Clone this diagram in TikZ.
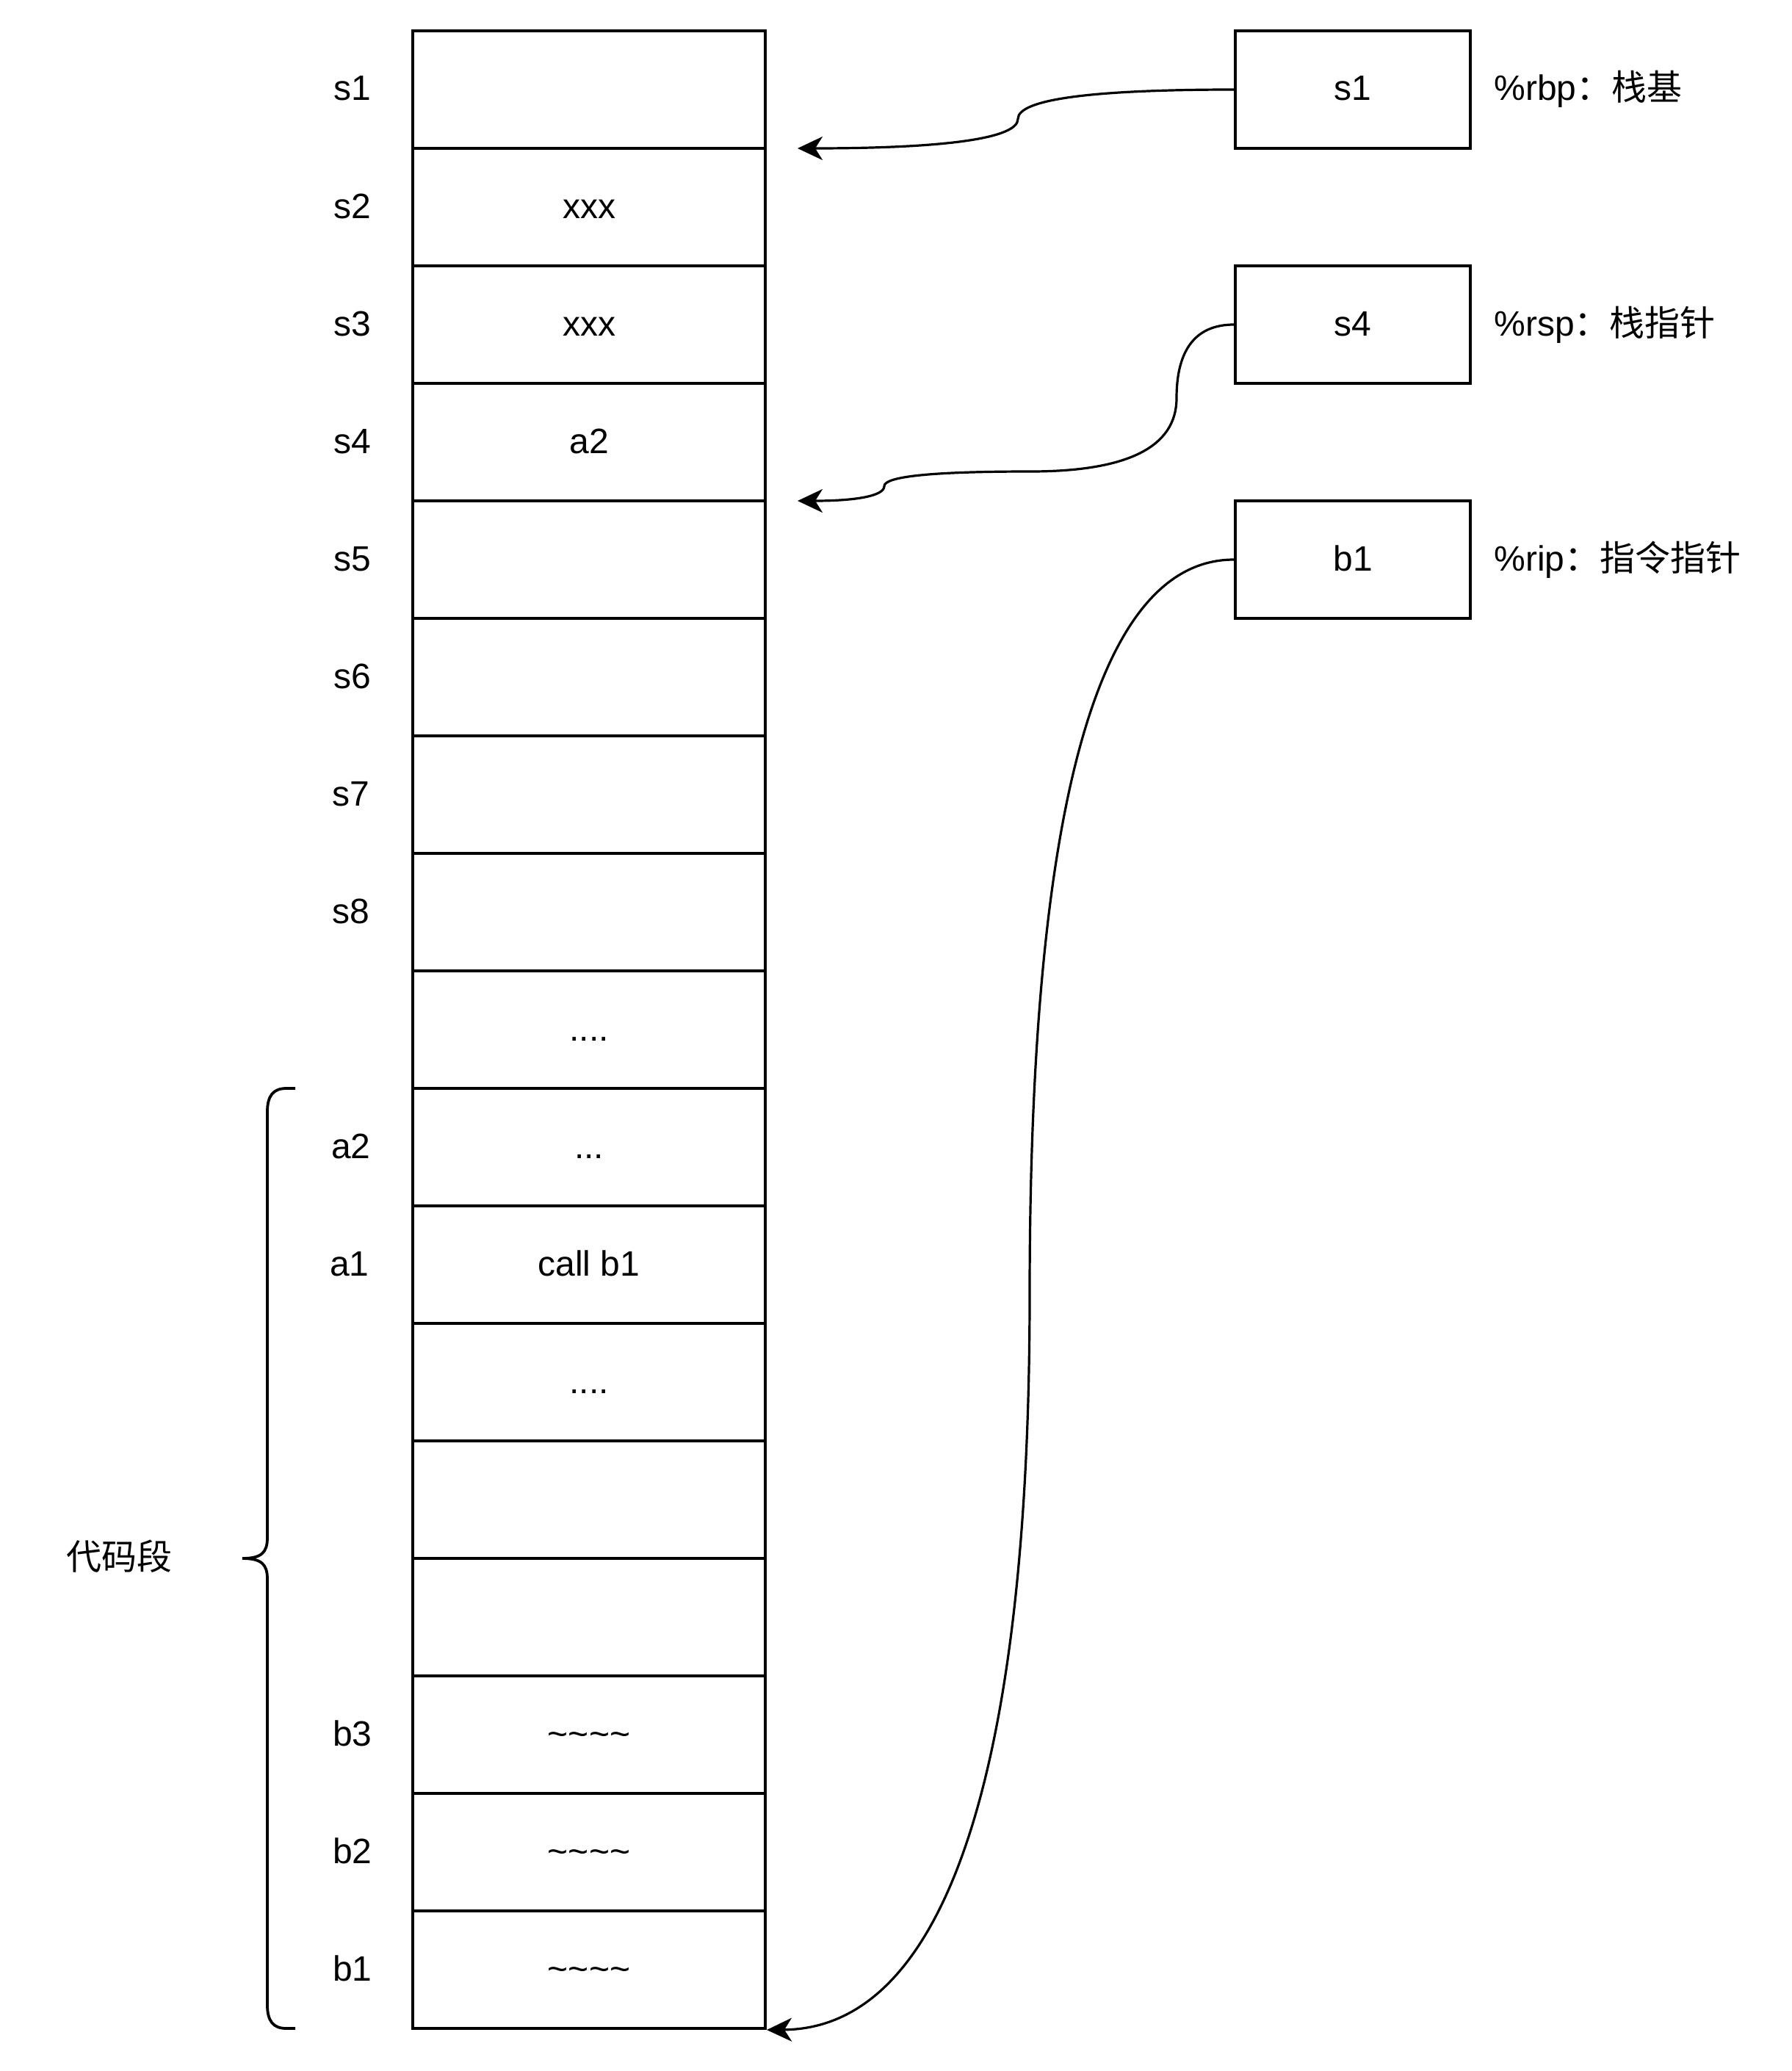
\documentclass[tikz,border=0pt]{standalone}
\usepackage{fontspec}
\setmainfont{Liberation Sans}
\newfontfamily\cjk{Noto Sans CJK SC}
\usetikzlibrary{arrows.meta}
\begin{document}
\begin{tikzpicture}[x=1pt,y=-1pt,
  txt/.style={inner sep=0pt, font=\fontsize{24}{28}\selectfont, text height=15pt, text depth=0pt},
  cell/.style={txt, draw, line width=2pt, minimum width=240pt, minimum height=80pt},
  reg/.style={cell, minimum width=160pt},
  conn/.style={line width=1.6pt, -{Stealth[length=17pt,width=16pt,inset=5pt]}}
]
\useasboundingbox (-1,-1) rectangle (1219,1409);

% memory column
\node[cell] (c0)  at (400,60)   {};
\node[cell] (c1)  at (400,140)  {xxx};
\node[cell] (c2)  at (400,220)  {xxx};
\node[cell] (c3)  at (400,300)  {a2};
\node[cell] (c4)  at (400,380)  {};
\node[cell] (c5)  at (400,460)  {};
\node[cell] (c6)  at (400,540)  {};
\node[cell] (c7)  at (400,620)  {};
\node[cell] (c8)  at (400,700)  {....};
\node[cell] (c9)  at (400,780)  {...};
\node[cell] (c10) at (400,860)  {call b1};
\node[cell] (c11) at (400,940)  {....};
\node[cell] (c12) at (400,1020) {};
\node[cell] (c13) at (400,1100) {};
\node[cell] (c14) at (400,1180) {\textasciitilde\textasciitilde\textasciitilde\textasciitilde};
\node[cell] (c15) at (400,1260) {\textasciitilde\textasciitilde\textasciitilde\textasciitilde};
\node[cell] (c16) at (400,1340) {\textasciitilde\textasciitilde\textasciitilde\textasciitilde};

% address labels
\node[txt] (l0)  at (239,60)   {s1};
\node[txt] (l1)  at (239,140)  {s2};
\node[txt] (l2)  at (239,220)  {s3};
\node[txt] (l3)  at (239,300)  {s4};
\node[txt] (l4)  at (239,380)  {s5};
\node[txt] (l5)  at (239,460)  {s6};
\node[txt] (l6)  at (238,540)  {s7};
\node[txt] (l7)  at (238,620)  {s8};
\node[txt] (l9)  at (238,780)  {a2};
\node[txt] (l10) at (237,860)  {a1};
\node[txt] (l14) at (239,1180) {b3};
\node[txt] (l15) at (239,1260) {b2};
\node[txt] (l16) at (239,1340) {b1};

% registers
\node[reg] (rbp) at (920,60)  {s1};
\node[reg] (rsp) at (920,220) {s4};
\node[reg] (rip) at (920,380) {b1};
\node[txt, anchor=west] (rbpl) at (1016,60)  {\%rbp{\cjk ：栈基}};
\node[txt, anchor=west] (rspl) at (1016,220) {\%rsp{\cjk ：栈指针}};
\node[txt, anchor=west] (ripl) at (1016,380) {\%rip{\cjk ：指令指针}};

% code segment brace
\node[txt] (code) at (80,1060) {\cjk 代码段};
\draw[line width=1.9pt] (200,740) -- (194,740)
  .. controls (185,740) and (181,745) .. (181,756) -- (181,1046)
  .. controls (181,1056) and (177,1060) .. (164,1060)
  .. controls (177,1060) and (181,1064) .. (181,1074) -- (181,1364)
  .. controls (181,1375) and (185,1380) .. (194,1380) -- (200,1380);

% connectors
\coordinate (t1) at (542,100);
\coordinate (t4) at (542,340);
\draw[conn] (rbp.west) .. controls (741.3,60) and (692,66.7) .. (692,80)
  .. controls (692,93.3) and (642,100) .. (t1);
\draw[conn] (rsp.west) .. controls (813.3,220) and (800,236.7) .. (800,270)
  .. controls (800,303.3) and (766.8,320) .. (700.5,320)
  .. controls (634.2,320) and (601,323.3) .. (601,330)
  .. controls (601,336.7) and (581.3,340) .. (t4);
\draw[conn] (rip.west) .. controls (746.7,380) and (700,546.7) .. (700,880)
  .. controls (700,1213.3) and (640,1380) .. (c16.south east);
\end{tikzpicture}
\end{document}
